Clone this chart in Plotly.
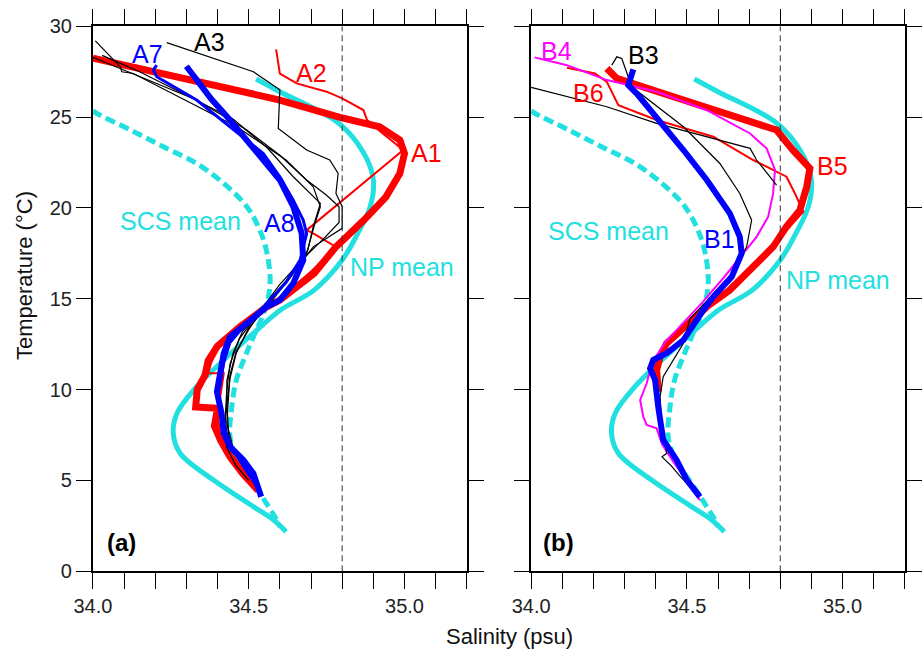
import plotly.graph_objects as go

# ---------------- data (salinity psu, temperature degC) ----------------
NP_S = [34.524, 34.60, 34.79, 34.87, 34.90, 34.89, 34.85, 34.80, 34.71, 34.60, 34.515, 34.42, 34.333, 34.27, 34.258, 34.28, 34.387, 34.515, 34.58, 34.62]
NP_T = [27.1, 26.4, 24.65, 23.0, 21.55, 20.07, 18.6, 17.13, 15.48, 14.36, 13.1, 11.63, 10.16, 8.7, 7.6, 6.5, 5.02, 3.56, 2.82, 2.18]

SCS_S = [34.0, 34.013, 34.12, 34.226, 34.333, 34.42, 34.494, 34.54, 34.563, 34.568, 34.55, 34.515, 34.488, 34.46, 34.446, 34.44, 34.46, 34.536, 34.59, 34.60]
SCS_T = [25.35, 25.2, 24.3, 23.37, 22.45, 21.35, 20.07, 18.6, 17.13, 15.66, 14.3, 12.9, 11.8, 10.5, 9.06, 7.4, 6.3, 4.3, 2.82, 2.45]

# panel (a)
A1_S = [34.0, 34.6, 34.79, 34.92, 34.985, 35.0, 34.985, 34.94, 34.87, 34.78, 34.71, 34.60, 34.558, 34.472, 34.40, 34.37, 34.36, 34.335, 34.33, 34.40, 34.39, 34.41, 34.44, 34.48, 34.53]
A1_T = [28.25, 25.94, 25.0, 24.47, 23.74, 23.0, 21.9, 20.6, 19.33, 17.86, 16.4, 14.93, 14.56, 13.46, 12.4, 11.6, 10.8, 10.0, 9.05, 8.97, 8.0, 7.2, 6.3, 5.4, 4.45]

A2_S = [34.588, 34.60, 34.654, 34.75, 34.80, 34.868, 34.88, 34.93, 34.996, 34.686, 34.707, 34.78, 34.70, 34.60, 34.48, 34.41, 34.38, 34.37, 34.42, 34.41, 34.40, 34.41, 34.44, 34.49, 34.53]
A2_T = [28.73, 27.4, 26.86, 26.4, 26.03, 25.39, 24.84, 24.1, 23.19, 18.78, 18.6, 17.86, 16.5, 15.0, 13.5, 12.5, 11.5, 10.9, 10.9, 9.8, 8.6, 7.5, 6.6, 5.4, 4.5]

A3_S = [34.237, 34.515, 34.60, 34.598, 34.595, 34.686, 34.76, 34.787, 34.78, 34.80, 34.80, 34.707, 34.675, 34.62, 34.55, 34.48, 34.45, 34.43, 34.43, 34.42, 34.43, 34.46, 34.50]
A3_T = [29.1, 27.5, 26.5, 25.76, 24.38, 23.19, 22.64, 21.9, 20.8, 20.07, 18.88, 17.86, 17.13, 15.9, 14.6, 13.2, 12.0, 10.5, 9.0, 7.8, 6.8, 5.8, 5.0]

A4_S = [34.008, 34.088, 34.093, 34.13, 34.30, 34.462, 34.62, 34.707, 34.73, 34.71, 34.686, 34.62, 34.56, 34.50, 34.46, 34.44, 34.435, 34.43, 34.44, 34.46, 34.50, 34.52]
A4_T = [29.2, 27.77, 27.5, 27.4, 25.9, 24.47, 22.64, 21.17, 20.07, 19.0, 17.5, 16.0, 14.8, 13.3, 12.1, 10.8, 9.5, 8.2, 7.1, 6.3, 5.4, 4.8]

A5_S = [34.0, 34.10, 34.20, 34.333, 34.494, 34.60, 34.686, 34.75, 34.79, 34.79, 34.74, 34.68, 34.60, 34.53, 34.47, 34.44, 34.43, 34.425, 34.43, 34.45, 34.49, 34.53]
A5_T = [28.3, 27.6, 26.9, 25.94, 24.29, 22.9, 21.54, 20.7, 20.07, 19.2, 18.3, 17.3, 15.8, 14.2, 12.8, 11.4, 10.0, 8.6, 7.5, 6.6, 5.6, 4.6]

A6_S = [34.03, 34.15, 34.30, 34.45, 34.56, 34.643, 34.73, 34.707, 34.69, 34.64, 34.57, 34.50, 34.46, 34.44, 34.43, 34.435, 34.45, 34.48, 34.515]
A6_T = [28.4, 27.5, 26.2, 24.9, 23.3, 21.72, 20.25, 18.97, 17.7, 16.3, 14.8, 13.4, 12.0, 10.6, 9.2, 7.8, 6.8, 5.9, 4.9]

A7_S = [34.205, 34.194, 34.205, 34.333, 34.44, 34.547, 34.60, 34.643, 34.675, 34.686, 34.665, 34.62, 34.55, 34.48, 34.44, 34.42, 34.41, 34.40, 34.415, 34.43, 34.45, 34.49, 34.53]
A7_T = [27.86, 27.6, 27.22, 25.94, 24.47, 23.0, 21.72, 20.43, 19.33, 18.6, 17.13, 15.9, 14.6, 13.4, 12.6, 11.5, 10.5, 9.5, 8.5, 7.5, 6.7, 5.6, 4.6]

A8_S = [34.30, 34.333, 34.38, 34.44, 34.526, 34.60, 34.643, 34.67, 34.675, 34.643, 34.60, 34.558, 34.494, 34.44, 34.42, 34.408, 34.398, 34.413, 34.42, 34.44, 34.483, 34.515, 34.54]
A8_T = [27.8, 27.05, 26.0, 24.84, 23.0, 21.54, 20.07, 18.6, 17.13, 15.85, 14.93, 14.56, 13.65, 12.91, 12.0, 10.71, 9.88, 8.7, 7.6, 6.86, 6.13, 5.39, 4.1]

# panel (b)
B1_S = [34.328, 34.312, 34.339, 34.403, 34.489, 34.564, 34.638, 34.67, 34.676, 34.644, 34.585, 34.553, 34.489, 34.435, 34.392, 34.382, 34.398, 34.408, 34.424, 34.467, 34.50, 34.542]
B1_T = [27.63, 26.76, 26.3, 25.02, 23.19, 21.54, 19.7, 18.41, 17.5, 16.21, 15.11, 14.38, 12.73, 12.0, 11.63, 11.17, 10.53, 9.06, 7.23, 6.13, 5.02, 4.1]

B2_S = [34.0, 34.243, 34.403, 34.564, 34.703, 34.724, 34.788]
B2_T = [26.64, 25.57, 24.66, 23.92, 23.28, 22.64, 21.26]

B3_S = [34.259, 34.275, 34.291, 34.323, 34.489, 34.606, 34.67, 34.708, 34.692, 34.64, 34.57, 34.51, 34.489, 34.457, 34.424, 34.414, 34.42, 34.435, 34.42, 34.45, 34.48, 34.52]
B3_T = [27.86, 28.32, 28.23, 26.67, 24.47, 22.45, 20.8, 19.33, 17.86, 16.3, 15.0, 13.9, 12.55, 11.63, 10.71, 9.61, 8.0, 6.49, 6.3, 5.8, 5.2, 4.5]

B4_S = [34.011, 34.115, 34.243, 34.403, 34.564, 34.703, 34.756, 34.783, 34.777, 34.761, 34.724, 34.681, 34.62, 34.55, 34.48, 34.43, 34.40, 34.382, 34.371, 34.35, 34.36, 34.371, 34.403, 34.42, 34.45, 34.49, 34.542]
B4_T = [28.29, 27.86, 27.04, 26.4, 25.39, 24.1, 23.28, 22.09, 20.8, 19.51, 18.41, 17.5, 16.2, 14.8, 13.5, 12.6, 11.8, 11.08, 10.35, 9.43, 8.51, 8.05, 7.87, 7.0, 6.2, 5.2, 3.92]

B5_S = [34.243, 34.275, 34.457, 34.617, 34.788, 34.84, 34.895, 34.885, 34.863, 34.82, 34.777, 34.713, 34.638, 34.564, 34.489, 34.435, 34.414, 34.403, 34.408]
B5_T = [27.68, 27.13, 26.12, 25.2, 24.29, 23.19, 22.18, 21.17, 19.88, 18.97, 17.86, 16.76, 15.48, 14.56, 13.46, 12.55, 11.81, 11.08, 9.88]

B6_S = [34.115, 34.205, 34.243, 34.28, 34.403, 34.585, 34.713, 34.82, 34.847, 34.874, 34.84, 34.79, 34.72, 34.64, 34.56, 34.48, 34.43, 34.41, 34.40, 34.405]
B6_T = [27.72, 27.4, 26.94, 25.66, 24.84, 23.92, 22.64, 21.72, 20.8, 19.79, 19.15, 18.2, 17.0, 15.7, 14.4, 13.3, 12.4, 11.6, 10.8, 9.9]

REF_S = 34.8  # dashed reference salinity

X_TICK_VALS = [34.0, 34.1, 34.2, 34.3, 34.4, 34.5, 34.6, 34.7, 34.8, 34.9, 35.0, 35.1, 35.2]
X_TICK_TEXT = ["34.0", "", "", "", "", "34.5", "", "", "", "", "35.0", "", ""]
Y_TICK_VALS = [0, 5, 10, 15, 20, 25, 30]

# labels: (text, S, T, color)
LABELS_A = [("A7", 34.176, 28.49, "#0000ff"), ("A3", 34.373, 29.16, "#000000"),
            ("A2", 34.703, 27.45, "#ff0000"), ("A1", 35.072, 23.02, "#ff0000"),
            ("SCS mean", 34.280, 19.28, "#22e0e0"), ("A8", 34.600, 19.17, "#0000ff"),
            ("NP mean", 34.992, 16.75, "#22e0e0")]
LABELS_B = [("B4", 34.082, 28.65, "#ff00ff"), ("B3", 34.361, 28.42, "#000000"),
            ("B6", 34.183, 26.31, "#ff0000"), ("B5", 34.969, 22.31, "#ff0000"),
            ("SCS mean", 34.247, 18.73, "#22e0e0"), ("B1", 34.606, 18.29, "#0000ff"),
            ("NP mean", 34.985, 16.03, "#22e0e0")]

CYAN = "#22e0e0"
FONT = "Liberation Sans, Arial, sans-serif"

fig = go.Figure()


def add(xs, ys, color, width, ax, dash=None, shape="linear"):
    fig.add_trace(go.Scatter(
        x=xs, y=ys, mode="lines", xaxis=ax, yaxis="y" if ax == "x" else "y2",
        line=dict(color=color, width=width, dash=dash, shape=shape),
        hoverinfo="skip", showlegend=False))


for ax in ("x", "x2"):
    add(SCS_S, SCS_T, CYAN, 5, ax, dash="10px,5px", shape="spline")
    add(NP_S, NP_T, CYAN, 5, ax, shape="spline")

# panel a
add(A1_S, A1_T, "#ff0000", 7, "x")
add(A2_S, A2_T, "#ff0000", 2, "x")
add(A4_S, A4_T, "#000000", 1.2, "x")
add(A5_S, A5_T, "#000000", 1.2, "x")
add(A6_S, A6_T, "#000000", 1.2, "x")
add(A3_S, A3_T, "#000000", 1.2, "x")
add(A7_S, A7_T, "#0000ff", 3, "x")
add(A8_S, A8_T, "#0000ff", 6, "x")

# panel b
add(B5_S, B5_T, "#ff0000", 7, "x2")
add(B6_S, B6_T, "#ff0000", 2, "x2")
add(B4_S, B4_T, "#ff00ff", 2, "x2")
add(B2_S, B2_T, "#000000", 1.2, "x2")
add(B3_S, B3_T, "#000000", 1.2, "x2")
add(B1_S, B1_T, "#0000ff", 6, "x2")

# reference dashed lines
for xr, yr in (("x", "y"), ("x2", "y2")):
    fig.add_shape(type="line", xref=xr, yref=yr, x0=REF_S, x1=REF_S,
                  y0=Y_TICK_VALS[0], y1=Y_TICK_VALS[-1],
                  line=dict(color="#333333", width=1, dash="6px,4px"), layer="above")

annotations = []
for labels, xr, yr in ((LABELS_A, "x", "y"), (LABELS_B, "x2", "y2")):
    for txt, s, t, c in labels:
        annotations.append(dict(text=txt, x=s, y=t, xref=xr, yref=yr, showarrow=False,
                                font=dict(family=FONT, size=25, color=c),
                                xanchor="center", yanchor="middle"))
annotations.append(dict(text="<b>(a)</b>", x=34.091, y=1.56, xref="x", yref="y", showarrow=False,
                        font=dict(family=FONT, size=24, color="#000"), xanchor="center", yanchor="middle"))
annotations.append(dict(text="<b>(b)</b>", x=34.087, y=1.56, xref="x2", yref="y2", showarrow=False,
                        font=dict(family=FONT, size=24, color="#000"), xanchor="center", yanchor="middle"))
annotations.append(dict(text="Salinity (psu)", x=510 / 923, y=1 - 636 / 651, xref="paper", yref="paper",
                        showarrow=False, font=dict(family=FONT, size=22, color="#111"),
                        xanchor="center", yanchor="middle"))
annotations.append(dict(text="Temperature (°C)", x=25 / 923, y=1 - 276 / 651, xref="paper", yref="paper",
                        showarrow=False, textangle=-90, font=dict(family=FONT, size=22, color="#111"),
                        xanchor="center", yanchor="middle"))

xcommon = dict(range=[33.9995, 35.2005], tickmode="array", tickvals=X_TICK_VALS, ticktext=X_TICK_TEXT,
               ticks="outside", ticklen=16, tickwidth=1.4, tickcolor="#000", showline=True,
               linecolor="#000", linewidth=1.5, mirror="ticks", showgrid=False, zeroline=False,
               automargin=False, tickfont=dict(family=FONT, size=20, color="#222"))
ycommon = dict(range=[0, 30], tickmode="array", tickvals=Y_TICK_VALS, ticks="outside", ticklen=15,
               tickwidth=1.4, tickcolor="#000", showline=True, linecolor="#000", linewidth=1.5,
               mirror="ticks", showgrid=False, zeroline=False, automargin=False,
               tickfont=dict(family=FONT, size=20, color="#222"))

fig.update_layout(
    width=923, height=651, margin=dict(l=0, r=0, t=0, b=0, autoexpand=False),
    paper_bgcolor="white", plot_bgcolor="white", showlegend=False,
    xaxis=dict(domain=[92.7 / 923, 467 / 923], anchor="y", **xcommon),
    xaxis2=dict(domain=[531 / 923, 905 / 923], anchor="y2", **xcommon),
    yaxis=dict(domain=[1 - 571.3 / 651, 1 - 26.3 / 651], anchor="x", showticklabels=True, **ycommon),
    yaxis2=dict(domain=[1 - 571.3 / 651, 1 - 26.3 / 651], anchor="x2", showticklabels=False, **ycommon),
    annotations=annotations,
)

fig.write_html("out.html")
